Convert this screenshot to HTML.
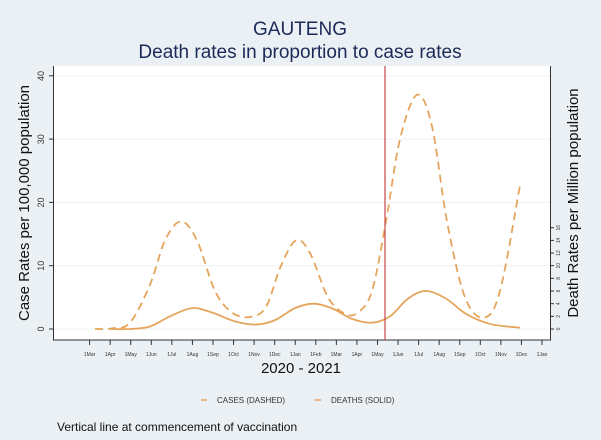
<!DOCTYPE html>
<html><head><meta charset="utf-8"><style>
html,body{margin:0;padding:0;background:#eaf0f3;}
svg{display:block;font-family:"Liberation Sans",sans-serif;}
</style></head><body>
<svg id="s" width="601" height="440" viewBox="0 0 601 440" xmlns="http://www.w3.org/2000/svg">
<rect width="601" height="440" fill="#eaf0f3"/>
<text x="300" y="35" text-anchor="middle" font-size="19" fill="#1c2a58">GAUTENG</text>
<text x="300" y="58" text-anchor="middle" font-size="19" fill="#1c2a58">Death rates in proportion to case rates</text>
<rect x="53" y="66" width="497" height="274" fill="#fff"/>
<g stroke="#eef1f3" stroke-width="1">
<line x1="53" x2="550" y1="76" y2="76"/><line x1="53" x2="550" y1="139.3" y2="139.3"/>
<line x1="53" x2="550" y1="202.5" y2="202.5"/><line x1="53" x2="550" y1="265.8" y2="265.8"/>
<line x1="53" x2="550" y1="329" y2="329"/>
</g>
<g stroke="#333" stroke-width="1" fill="none">
<path d="M53.5 66V340H550.5V66"/>
</g>
<g font-size="9" fill="#333" text-anchor="middle">
<g transform="translate(44,329) rotate(-90)"><text>0</text></g>
<g transform="translate(44,265.8) rotate(-90)"><text>10</text></g>
<g transform="translate(44,202.5) rotate(-90)"><text>20</text></g>
<g transform="translate(44,139.3) rotate(-90)"><text>30</text></g>
<g transform="translate(44,76) rotate(-90)"><text>40</text></g>
</g>
<g id="lt" stroke="#333"></g>
<g id="rt" stroke="#333"></g>
<g id="xt" stroke="#333"></g>
<g id="labs" font-size="5" fill="#333" text-anchor="middle"></g>
<g id="rlabs" font-size="5" fill="#333" text-anchor="middle"></g>
<g transform="translate(29,203) rotate(-90)"><text text-anchor="middle" font-size="15" fill="#111">Case Rates per 100,000 population</text></g>
<g transform="translate(578,203) rotate(-90)"><text text-anchor="middle" font-size="15" fill="#111">Death Rates per Million population</text></g>
<text x="301" y="373" text-anchor="middle" font-size="15" fill="#111">2020 - 2021</text>
<path id="dash" fill="none" stroke="#e5a55c" stroke-width="1.8" stroke-dasharray="8,5"/>
<path id="solid" fill="none" stroke="#e5a55c" stroke-width="1.8"/>
<line x1="385" x2="385" y1="66" y2="340" stroke="#c8454a" stroke-width="1.2"/>
<line x1="201" x2="207" y1="400" y2="400" stroke="#e5a55c" stroke-width="1.5"/>
<text x="217" y="403" font-size="8" fill="#333">CASES (DASHED)</text>
<line x1="315" x2="321" y1="400" y2="400" stroke="#e5a55c" stroke-width="1.5"/>
<text x="331" y="403" font-size="8" fill="#333">DEATHS (SOLID)</text>
<text x="57" y="431" font-size="12" fill="#111">Vertical line at commencement of vaccination</text>
</svg>
<script>
var NS="http://www.w3.org/2000/svg";
function el(p,t,a,txt){var e=document.createElementNS(NS,t);for(var k in a)e.setAttribute(k,a[k]);if(txt)e.textContent=txt;document.getElementById(p).appendChild(e);}
[0,10,20,30,40].forEach(function(v){var y=329-v*6.33;el("lt","line",{x1:49,x2:53,y1:y,y2:y});});
for(var v=0;v<=16;v+=2){var y=329-v*6.33;el("rt","line",{x1:550,x2:554,y1:y,y2:y});var g=document.createElementNS(NS,"g");g.setAttribute("transform","translate(560,"+y+") rotate(-90)");var t=document.createElementNS(NS,"text");t.textContent=v;g.appendChild(t);document.getElementById("rlabs").appendChild(g);}
var m=["1Mar","1Apr","1May","1Jun","1Jul","1Aug","1Sep","1Oct","1Nov","1Dec","1Jan","1Feb","1Mar","1Apr","1May","1Jun","1Jul","1Aug","1Sep","1Oct","1Nov","1Dec","1Jan"];
for(var i=0;i<m.length;i++){var x=89.6+i*(542-89.6)/22;el("xt","line",{x1:x,x2:x,y1:340,y2:345});el("labs","text",{x:x,y:356},m[i]);}
function cr(p){var d="M"+p[0][0]+" "+p[0][1];for(var i=0;i<p.length-1;i++){var p0=p[i-1]||p[i],p1=p[i],p2=p[i+1],p3=p[i+2]||p2;d+=" C"+(p1[0]+(p2[0]-p0[0])/6)+" "+(p1[1]+(p2[1]-p0[1])/6)+" "+(p2[0]-(p3[0]-p1[0])/6)+" "+(p2[1]-(p3[1]-p1[1])/6)+" "+p2[0]+" "+p2[1];}return d;}
function Y(v){return 329-v*6.33;}
var dsh=[[95,Y(0)],[112,Y(0.1)],[130,Y(1)],[150,Y(7)],[165,Y(14)],[181,Y(17)],[197,Y(14)],[215,Y(6)],[232,Y(2.6)],[250,Y(1.9)],[266,Y(3.5)],[281,Y(10)],[296,Y(14)],[310,Y(12)],[328,Y(5)],[345,Y(2.4)],[358,Y(2.6)],[372,Y(6)],[386,Y(17)],[400,Y(30)],[417,Y(37)],[432,Y(32)],[447,Y(17)],[465,Y(5)],[484,Y(1.8)],[500,Y(6)],[520,Y(22.7)]];
var sol=[[110,Y(0)],[130,Y(0)],[150,Y(0.4)],[170,Y(2)],[192,Y(3.3)],[212,Y(2.6)],[235,Y(1.2)],[256,Y(0.7)],[275,Y(1.4)],[295,Y(3.3)],[314,Y(4)],[333,Y(3.2)],[352,Y(1.6)],[372,Y(1.0)],[390,Y(2)],[408,Y(4.8)],[426,Y(6)],[446,Y(4.8)],[466,Y(2.4)],[490,Y(0.8)],[520,Y(0.2)]];
document.getElementById("dash").setAttribute("d",cr(dsh));
document.getElementById("solid").setAttribute("d",cr(sol));
</script>
</body></html>
